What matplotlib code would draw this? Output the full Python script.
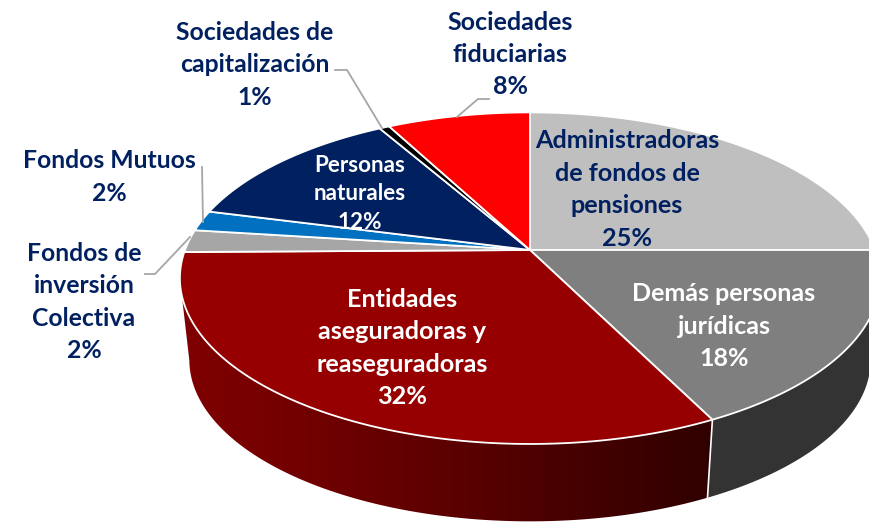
import numpy as np
import matplotlib
matplotlib.use("Agg")
import matplotlib.pyplot as plt
from matplotlib.patches import Polygon
from matplotlib.colors import LinearSegmentedColormap

plt.rcParams['font.family'] = ['Lato', 'DejaVu Sans']

categories = ["Administradoras\nde fondos de\npensiones", "Demás personas\njurídicas",
              "Entidades\naseguradoras y\nreaseguradoras", "Fondos de\ninversión\nColectiva",
              "Fondos Mutuos", "Personas\nnaturales", "Sociedades de\ncapitalización",
              "Sociedades\nfiduciarias"]
percent_labels = [25, 18, 32, 2, 2, 12, 1, 8]
# slice shares (labels are rounded)
shares = [25, 17.6, 32.2, 2.2, 2, 12.67, 0.55, 7.78]
top_colors = ["#BFBFBF", "#7F7F7F", "#960000", "#A6A6A6", "#0070C0", "#002060", "#000000", "#FF0000"]

# label layout: centre x, centre y (pixels), size, line spacing, colour
label_pos = [(627, 189.5, 18.2, 1.5, "#002060"), (724, 326, 18.0, 1.5, "white"),
             (402, 348, 18.2, 1.5, "white"), (84, 302, 17.8, 1.5, "#002060"),
             (109, 177, 17.8, 1.5, "#002060"), (360, 194, 16.2, 1.46, "white"),
             (254.5, 65, 17.8, 1.5, "#002060"), (510, 54.5, 18.0, 1.5, "#002060")]
leaders = [[(145, 274), (155, 274), (190, 237)], [(202, 167), (203, 222)],
           [(335, 70), (347, 70), (382, 128)], [(457, 117), (478, 99), (489, 99)]]

CX, CY, A, B, K = 530, 250, 345, 161, 0.17
SCALE, DROP = 0.973, 82.6


def project(theta):
    x, y = np.sin(theta), np.cos(theta)
    w = 1 + K * y
    return CX + A * x / w, CY - B * y / w


def lower(px, py):
    return CX + (px - CX) * SCALE, CY + (py - CY) * SCALE + DROP


def wall(t0, t1):
    t = np.linspace(t0, t1, 300)
    px, py = project(t)
    qx, qy = lower(px, py)
    return np.c_[np.r_[px, qx[::-1]], np.r_[py, qy[::-1]]]


fig = plt.figure(figsize=(8.69, 5.22), dpi=100)
ax = fig.add_axes([0, 0, 1, 1])

edges = np.radians(np.concatenate([[0], np.cumsum(shares)]) * 3.6)
corner = edges[2]
side_right, side_left = np.radians(100), np.radians(260)  # silhouette tangents

# side wall
ax.add_patch(Polygon(wall(side_right, corner), closed=True, facecolor="#333333",
                     edgecolor="none", zorder=1))
red_cmap = LinearSegmentedColormap.from_list(
    "side", [(0, "#800000"), (0.226, "#720000"), (0.509, "#5C0000"), (0.792, "#420000"), (1, "#300000")])
clip = Polygon(wall(corner, side_left), closed=True, facecolor="none", edgecolor="none",
               transform=ax.transData)
ax.add_patch(clip)
im = ax.imshow(np.linspace(0, 1, 256)[None, :], cmap=red_cmap, extent=(180, 712, 530, 240),
               aspect="auto", zorder=1, interpolation="bilinear")
im.set_clip_path(clip)
cx, cy = project(corner)
lx, ly = lower(cx, cy)
ax.plot([cx, lx], [cy, ly], color="white", lw=1.2, zorder=2)

# top face
for i in range(len(shares)):
    th = np.linspace(edges[i], edges[i + 1], 150)
    x, y = project(th)
    ax.fill(np.r_[CX, x], np.r_[CY, y], facecolor=top_colors[i], edgecolor="white",
            linewidth=1.3, joinstyle="round", zorder=3)

for pts in leaders:
    xs, ys = zip(*pts)
    ax.plot(xs, ys, color="#A6A6A6", lw=1.3, zorder=4)

for name, pct, (x, y, size, ls, col) in zip(categories, percent_labels, label_pos):
    ax.text(x, y, f"{name}\n{pct}%", ha="center", va="center", fontsize=size, color=col,
            fontweight="bold", linespacing=ls, zorder=5)

ax.set_xlim(0, 869)
ax.set_ylim(522, 0)
ax.axis("off")
fig.savefig("out.png", dpi=100)
